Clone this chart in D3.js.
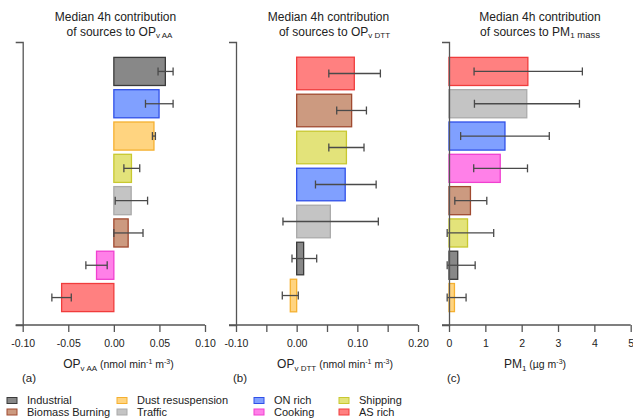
<!DOCTYPE html>
<html><head><meta charset="utf-8">
<script src="https://cdn.jsdelivr.net/npm/d3@7"></script>
<style>
body{margin:0;background:#fff}
svg{display:block}
text{font-family:"Liberation Sans",Arial,sans-serif;fill:#222}
</style>
</head><body><svg id="c" width="633" height="418"></svg>
<script>
// ---- data ----
const sources = ["Industrial","Biomass Burning","Dust resuspension","Traffic","ON rich","Cooking","Shipping","AS rich"];
const fillColors = ["#888888","#cc9a80","#ffd480","#c4c4c4","#80a0ff","#ff80e8","#e3e37a","#ff8080"];
const strokeColors = ["#3a3a3a","#a04a30","#f5b030","#aaaaaa","#3050e8","#f040d0","#c8c830","#f03c3c"];

const aCategories = ["Industrial","ON rich","Dust resuspension","Shipping","Traffic","Biomass Burning","Cooking","AS rich"];
const aMedian = [0.0565,0.0496,0.044,0.0193,0.019,0.0157,-0.019,-0.0573];
const aLow    = [0.0485,0.0347,0.0423,0.011,0.0015,0.0,-0.0307,-0.068];
const aHigh   = [0.065,0.065,0.0456,0.0284,0.037,0.032,-0.0073,-0.0467];
const aTicks = [-0.10,-0.05,0,0.05,0.10];
const aTickLabels = ["-0.10","-0.05","0.00","0.05","0.10"];

const bCategories = ["AS rich","Biomass Burning","Shipping","ON rich","Traffic","Industrial","Dust resuspension"];
const bMedian = [0.095,0.0906,0.082,0.080,0.0555,0.0115,-0.0105];
const bLow    = [0.053,0.066,0.053,0.031,-0.0226,-0.0077,-0.0237];
const bHigh   = [0.138,0.115,0.111,0.131,0.1346,0.033,0.0027];
const bTicks = [-0.10,-0.05,0,0.05,0.10,0.15,0.20];
const bTickLabels = ["-0.10","","0.00","","0.10","","0.20"];

const cCategories = ["AS rich","Traffic","ON rich","Cooking","Biomass Burning","Shipping","Industrial","Dust resuspension"];
const cMedian = [2.17,2.14,1.54,1.41,0.59,0.51,0.24,0.15];
const cLow    = [0.69,0.70,0.32,0.68,0.16,-0.05,-0.05,-0.05];
const cHigh   = [3.67,3.59,2.76,2.16,1.04,1.23,0.72,0.47];
const cTicks = [0,1,2,3,4,5];
const cTickLabels = ["0","1","2","3","4","5"];

// ---- layout ----
const svg = d3.select("#c");
const color = d3.scaleOrdinal().domain(sources).range(fillColors);
const strokeC = d3.scaleOrdinal().domain(sources).range(strokeColors);
const yTop = 42, yBot = 325;

function addRich(t, parts){
  parts.forEach(p=>{
    const ts = t.append("tspan").text(p.t).style("font-size", p.s+"px");
    if (p.dy) ts.attr("dy", p.dy);
  });
}

const panels = [
  {cats:aCategories, med:aMedian, lo:aLow, hi:aHigh, ticks:aTicks, labels:aTickLabels,
   domain:[-0.10,0.10], range:[22.7,205], pin:0.13, pout:0.43,
   titleX:[115.5,119.5], title2:[{t:"of sources to OP",s:12},{t:"v AA",s:8,dy:2}],
   labX:118.5, label:[{t:"OP",s:12},{t:"v AA",s:8,dy:3},{t:" (nmol min",s:10.5,dy:-3},{t:"-1",s:7,dy:-4},{t:" m",s:10.5,dy:4},{t:"-3",s:7,dy:-4},{t:")",s:10.5,dy:4}],
   tag:"(a)", tagX:22},
  {cats:bCategories, med:bMedian, lo:bLow, hi:bHigh, ticks:bTicks, labels:bTickLabels,
   domain:[-0.10,0.20], range:[236,418], pin:0.12, pout:0.37,
   titleX:[328.5,334.5], title2:[{t:"of sources to OP",s:12},{t:"v DTT",s:8,dy:2}],
   labX:335, label:[{t:"OP",s:12},{t:"v DTT",s:8,dy:3},{t:" (nmol min",s:10.5,dy:-3},{t:"-1",s:7,dy:-4},{t:" m",s:10.5,dy:4},{t:"-3",s:7,dy:-4},{t:")",s:10.5,dy:4}],
   tag:"(b)", tagX:233},
  {cats:cCategories, med:cMedian, lo:cLow, hi:cHigh, ticks:cTicks, labels:cTickLabels,
   domain:[0,5], range:[449,630.7], pin:0.13, pout:0.43,
   titleX:[540,540], title2:[{t:"of sources to PM",s:12},{t:"1",s:8,dy:2},{t:" mass",s:9.5}],
   labX:535, label:[{t:"PM",s:12},{t:"1",s:8,dy:3},{t:" (µg m",s:10.5,dy:-3},{t:"-3",s:7,dy:-4},{t:")",s:10.5,dy:4}],
   tag:"(c)", tagX:447}
];

panels.forEach(p=>{
  const g = svg.append("g");
  const x = d3.scaleLinear().domain(p.domain).range(p.range);
  const y = d3.scaleBand().domain(p.cats).range([yTop+1.5, yBot+0.5]).paddingInner(p.pin).paddingOuter(p.pout);
  const rows = p.cats.map((c,i)=>({c, v:p.med[i], lo:p.lo[i], hi:p.hi[i]}));

  // bars
  g.selectAll("rect.bar").data(rows).join("rect")
    .attr("x", d=>x(Math.min(0,d.v)))
    .attr("width", d=>Math.abs(x(d.v)-x(0)))
    .attr("y", d=>y(d.c)).attr("height", y.bandwidth())
    .attr("fill", d=>color(d.c)).attr("stroke", d=>strokeC(d.c)).attr("stroke-width",1.3);

  // error bars
  const eb = g.selectAll("g.eb").data(rows).join("g")
    .attr("stroke","#4a4a4a").attr("stroke-width",1.3);
  eb.append("line").attr("x1",d=>x(d.lo)).attr("x2",d=>x(d.hi))
    .attr("y1",d=>y(d.c)+y.bandwidth()/2).attr("y2",d=>y(d.c)+y.bandwidth()/2);
  eb.append("line").attr("x1",d=>x(d.lo)).attr("x2",d=>x(d.lo))
    .attr("y1",d=>y(d.c)+y.bandwidth()/2-4).attr("y2",d=>y(d.c)+y.bandwidth()/2+4);
  eb.append("line").attr("x1",d=>x(d.hi)).attr("x2",d=>x(d.hi))
    .attr("y1",d=>y(d.c)+y.bandwidth()/2-4).attr("y2",d=>y(d.c)+y.bandwidth()/2+4);

  // x axis
  const xa = g.append("g").attr("transform",`translate(0,${yBot})`)
    .call(d3.axisBottom(x).tickValues(p.ticks).tickSize(7).tickSizeOuter(0).tickPadding(7.5)
      .tickFormat((d,i)=>p.labels[i]));
  xa.select(".domain").attr("d", `M${p.range[0]-7},0H${p.range[1]}`);
  xa.selectAll("path,line").attr("stroke","#555").attr("stroke-width",1.3);
  xa.selectAll("text").style("font-size","10.5px").attr("fill","#222");

  // y axis (no tick labels)
  const ya = g.append("g").attr("transform",`translate(${p.range[0]},0)`)
    .call(d3.axisLeft(d3.scaleLinear().range([yTop,yBot])).tickValues([]).tickSizeOuter(7));
  ya.select(".domain").attr("stroke","#555").attr("stroke-width",1.3);

  // title
  const cx = (p.range[0]+p.range[1])/2;
  g.append("text").attr("x",p.titleX[0]).attr("y",21).attr("text-anchor","middle")
    .style("font-size","12px").text("Median 4h contribution");
  const t2 = g.append("text").attr("x",p.titleX[1]).attr("y",35.5).attr("text-anchor","middle");
  addRich(t2, p.title2);

  // axis label
  const lab = g.append("text").attr("x",p.labX).attr("y",367.5).attr("text-anchor","middle");
  addRich(lab, p.label);

  // tag
  g.append("text").attr("x",p.tagX).attr("y",382).style("font-size","11.5px").text(p.tag);
});

// legend
const legX = [7,117,254,339];
const leg = svg.append("g");
sources.forEach((s,i)=>{
  const col = Math.floor(i/2), row = i%2;
  leg.append("rect").attr("x",legX[col]).attr("y",397.5+row*11.5).attr("width",10).attr("height",6)
    .attr("fill",color(s)).attr("stroke",strokeC(s)).attr("stroke-width",1);
  leg.append("text").attr("x",legX[col]+20).attr("y",404+row*11.5).style("font-size","11px").text(s);
});
</script>
</body></html>
